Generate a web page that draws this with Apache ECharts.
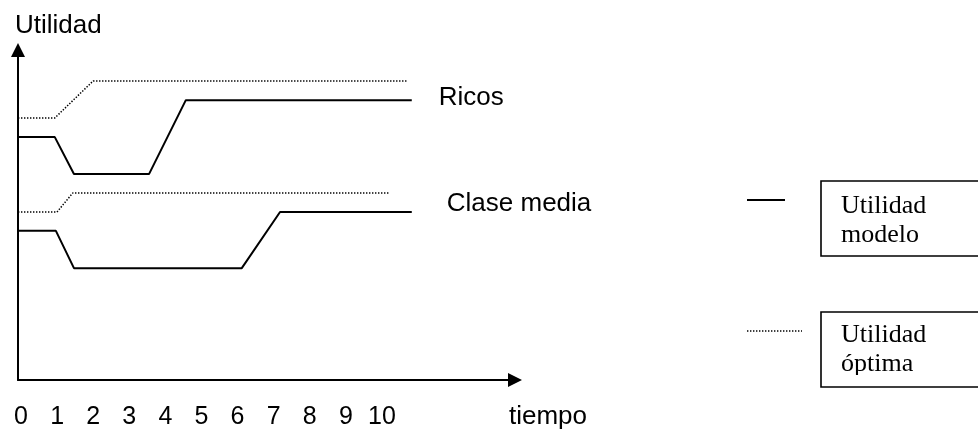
<!DOCTYPE html>
<html>
<head>
<meta charset="utf-8">
<script src="https://cdn.jsdelivr.net/npm/echarts@6/dist/echarts.min.js"></script>
<style>html,body{margin:0;padding:0;background:#fff}#c{width:978px;height:432px}</style>
</head>
<body>
<div id="c"></div>
<script>
// ---- data ----
const tickLabels = ['0','1','2','3','4','5','6','7','8','9','10'];
const ricosModeloX   = [0, 1.02, 1.55, 3.63, 4.65, 10.91];
const ricosModeloY   = [7.36, 7.36, 6.24, 6.24, 8.48, 8.48];
const ricosOptimaX   = [0, 1.02, 2.08, 10.8];
const ricosOptimaY   = [7.94, 7.94, 9.06, 9.06];
const mediaModeloX   = [0, 1.05, 1.55, 6.2, 7.26, 10.91];
const mediaModeloY   = [4.52, 4.52, 3.39, 3.39, 5.09, 5.09];
const mediaOptimaX   = [0, 1.08, 1.52, 10.3];
const mediaOptimaY   = [5.09, 5.09, 5.67, 5.67];
const groupNames = ['Ricos', 'Clase media'];
const legendNames = [['Utilidad', 'modelo'], ['Utilidad', 'óptima']];
const xAxisName = 'tiempo';
const yAxisName = 'Utilidad';

const pair = (xs, ys) => xs.map((x, i) => [x, ys[i]]);
const SANS = "'Liberation Sans',Arial,sans-serif";
const SERIF = "'Liberation Serif','Times New Roman',serif";

const chart = echarts.init(document.getElementById('c'), null, {renderer: 'canvas'});
const solid = {color: '#000', width: 2, type: 'solid'};
const dotted = {color: '#000', width: 1.5, type: [1.4, 1.6]};

chart.setOption({
  animation: false,
  backgroundColor: '#fff',
  grid: {left: 18, top: 50, width: 497, height: 330, containLabel: false},
  xAxis: {
    type: 'value', min: 0, max: 13.77, interval: 1,
    axisLine: {show: true, lineStyle: {color: '#000', width: 2}, symbol: ['none', 'triangle'], symbolSize: [14, 14]},
    axisTick: {show: false}, splitLine: {show: false},
    axisLabel: {
      margin: 25, color: '#000', fontSize: 25, fontFamily: SANS,
      padding: [0, 0, 0, 6],
      showMaxLabel: false,
      formatter: v => (v >= 0 && v <= 10 && Number.isInteger(v)) ? tickLabels[v] : ''
    }
  },
  yAxis: {
    type: 'value', min: 0, max: 10,
    axisLine: {show: true, lineStyle: {color: '#000', width: 2}, symbol: ['none', 'triangle'], symbolSize: [14, 14]},
    axisTick: {show: false}, splitLine: {show: false}, axisLabel: {show: false}
  },
  series: [
    {name: 'Ricos óptima', type: 'line', data: pair(ricosOptimaX, ricosOptimaY), symbol: 'none', lineStyle: dotted, silent: true},
    {name: 'Ricos modelo', type: 'line', data: pair(ricosModeloX, ricosModeloY), symbol: 'none', lineStyle: solid, silent: true,
      endLabel: {show: true, formatter: groupNames[0], color: '#000', fontSize: 26, fontFamily: SANS, distance: 27, offset: [0, -2]}},
    {name: 'Clase media óptima', type: 'line', data: pair(mediaOptimaX, mediaOptimaY), symbol: 'none', lineStyle: dotted, silent: true},
    {name: 'Clase media modelo', type: 'line', data: pair(mediaModeloX, mediaModeloY), symbol: 'none', lineStyle: solid, silent: true,
      endLabel: {show: true, formatter: groupNames[1], color: '#000', fontSize: 26, fontFamily: SANS, distance: 35, offset: [0, -8]}}
  ],
  graphic: [
    {type: 'text', left: 15, top: 13, style: {text: yAxisName, fill: '#000', font: '26px ' + SANS}},
    {type: 'text', left: 509, top: 404, style: {text: xAxisName, fill: '#000', font: '26px ' + SANS}},
    // legend sample lines
    {type: 'line', shape: {x1: 747, y1: 200, x2: 785, y2: 200}, style: {stroke: '#000', lineWidth: 2}},
    {type: 'line', shape: {x1: 747, y1: 331, x2: 802, y2: 331}, style: {stroke: '#000', lineWidth: 1.5, lineDash: [1.4, 1.6]}},
    // legend boxes
    {type: 'text', x: 841, y: 192, z: 10, style: {text: legendNames[0].join('\n'), fill: '#000', font: '26px ' + SERIF, lineHeight: 29}},
    {type: 'rect', z: 11, shape: {x: 821, y: 181, width: 200, height: 75}, style: {fill: 'none', stroke: '#000', lineWidth: 1.6}},
    {type: 'text', x: 841, y: 321, z: 10, style: {text: legendNames[1].join('\n'), fill: '#000', font: '26px ' + SERIF, lineHeight: 29}},
    {type: 'rect', z: 11, shape: {x: 823, y: 375, width: 200, height: 11}, style: {fill: '#fff', stroke: 'none'}},
    {type: 'rect', z: 12, shape: {x: 821, y: 312, width: 200, height: 75}, style: {fill: 'none', stroke: '#000', lineWidth: 1.6}}
  ]
});
</script>
</body>
</html>
